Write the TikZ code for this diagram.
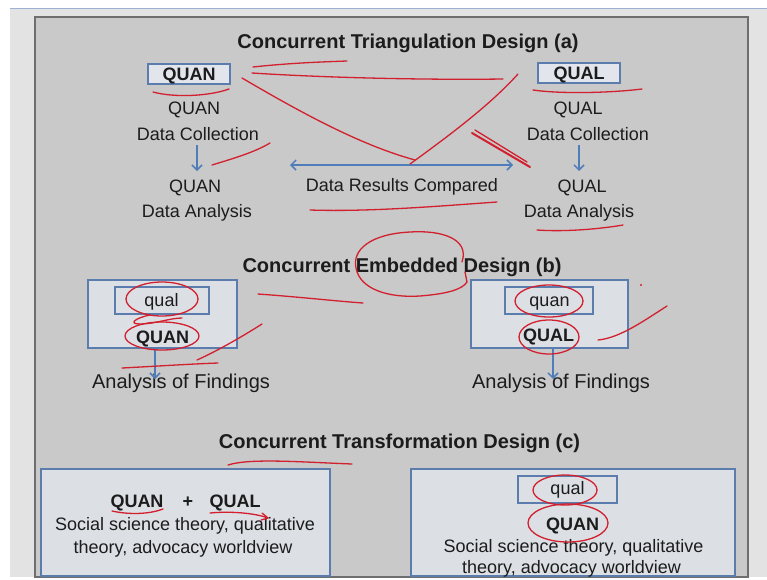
\documentclass[tikz,border=0pt]{standalone}
\usepackage{fontspec}
\setmainfont{Liberation Sans}
\usetikzlibrary{arrows.meta}
\definecolor{panel}{HTML}{C9C9C9}
\definecolor{outerbg}{HTML}{E3E3E3}
\definecolor{topline}{HTML}{9DB3D3}
\definecolor{frame}{HTML}{6E6E6E}
\definecolor{boxfill}{HTML}{DCDFE4}
\definecolor{boxlight}{HTML}{E2E6EC}
\definecolor{boxline}{HTML}{5A7DAE}
\definecolor{arrowblue}{HTML}{4F7DBA}
\definecolor{ink}{HTML}{D2202F}
\definecolor{textc}{HTML}{1C1C1C}
\begin{document}
\begin{tikzpicture}[x=1pt,y=-1pt,
  ttl/.style={font=\fontsize{20}{24}\selectfont\bfseries, text=textc, inner sep=0pt, text height=14.3pt, text depth=0pt},
  txt/.style={font=\fontsize{18}{21}\selectfont, text=textc, inner sep=0pt, text height=12.9pt, text depth=0pt},
  bigtxt/.style={font=\fontsize{20}{24}\selectfont, text=textc, inner sep=0pt, text height=14.3pt, text depth=0pt},
  btxt/.style={font=\fontsize{18}{21}\selectfont\bfseries, text=textc, inner sep=0pt, text height=12.9pt, text depth=0pt},
  box/.style={draw=boxline, fill=boxfill, line width=1.4pt, inner sep=0pt},
  arr/.style={draw=arrowblue, line width=1.5pt, -{Straight Barb[length=5pt,width=10pt]}},
  darr/.style={draw=arrowblue, line width=1.5pt, {Straight Barb[length=5pt,width=10pt]}-{Straight Barb[length=5pt,width=10pt]}},
  pen/.style={draw=ink, line width=1.3pt, line cap=round, line join=round}]
\useasboundingbox (0,0) rectangle (767,579);
% background
\fill[white] (0,0) rectangle (767,579);
\fill[outerbg] (10,9) rectangle (767,577);
\draw[topline, line width=1.5pt] (10,8.5) -- (767,8.5);
\draw[frame, fill=panel, line width=1.2pt] (35,17) rectangle (748,577);

% ---------- (a) ----------
\node[ttl] (t1) at (408,41) {Concurrent Triangulation Design (a)};
\node[box, fill=boxlight, minimum width=82pt, minimum height=20pt] (quanbox) at (189,74) {};
\node[btxt] (quanboxt) at (189,74) {QUAN};
\node[box, fill=boxlight, minimum width=82pt, minimum height=20pt] (qualbox) at (579,73) {};
\node[btxt] (qualboxt) at (579,73) {QUAL};
\node[txt] (quanL) at (194,108) {QUAN};
\node[txt] (dcL) at (198,134) {Data Collection};
\node[txt] (qanL) at (195,186) {QUAN};
\node[txt] (daL) at (197,211) {Data Analysis};
\node[txt] (qualR) at (578,108) {QUAL};
\node[txt] (dcR) at (588,134) {Data Collection};
\node[txt] (qalR) at (582,186) {QUAL};
\node[txt] (daR) at (579,211) {Data Analysis};
\node[txt] (drc) at (402,185) {Data Results Compared};
\coordinate (aL1) at (197,145);
\coordinate (aL2) at (197,171);
\coordinate (aR1) at (579,145);
\coordinate (aR2) at (579,171);
\coordinate (dl) at (290,165);
\coordinate (dr) at (513,165);
\draw[arr] (aL1) -- (aL2);
\draw[arr] (aR1) -- (aR2);
\draw[darr] (dl) -- (dr);

% ---------- (b) ----------
\node[ttl] (t2) at (402,265) {Concurrent Embedded Design (b)};
\node[box, minimum width=149pt, minimum height=68pt] (lob) at (162.5,314) {};
\node[box, minimum width=94pt, minimum height=27pt] (lib) at (162,300.5) {};
\node[txt] (qualb) at (161.5,300) {qual};
\node[btxt] (quanb) at (162.5,337) {QUAN};
\node[bigtxt] (anL) at (181,381.5) {Analysis of Findings};
\node[box, minimum width=157pt, minimum height=68pt] (rob) at (549.5,314) {};
\node[box, minimum width=88pt, minimum height=27pt] (rib) at (549,300.5) {};
\node[txt] (quanbR) at (549.5,300.5) {quan};
\node[btxt] (qualbR) at (548.5,335) {QUAL};
\node[bigtxt] (anR) at (561,381.5) {Analysis of Findings};
\coordinate (bL2) at (155,379);
\coordinate (bR2) at (553,379);
\draw[arr] (lob.south -| bL2) -- (bL2);
\draw[arr] (rob.south -| bR2) -- (bR2);

% ---------- (c) ----------
\node[ttl] (t3) at (399.5,441) {Concurrent Transformation Design (c)};
\node[box, minimum width=289pt, minimum height=107pt] (tl) at (185.5,522.5) {};
\node[box, minimum width=324pt, minimum height=107pt] (tr) at (573,522.5) {};
\node[box, minimum width=99pt, minimum height=27pt] (tri) at (567.5,489.5) {};
\node[btxt] (cquan) at (137,501.5) {QUAN};
\node[btxt] (cplus) at (188,501.5) {+};
\node[btxt] (cqual) at (235,501.5) {QUAL};
\node[txt] (cs1) at (185,524.5) {Social science theory, qualitative};
\node[txt] (cs2) at (183,547) {theory, advocacy worldview};
\node[txt] (cqualR) at (567.5,488.5) {qual};
\node[btxt] (cquanR) at (572.5,524) {QUAN};
\node[txt] (cs3) at (573.5,546) {Social science theory, qualitative};
\node[txt] (cs4) at (571.5,567) {theory, advocacy worldview};

% ---------- red annotations ----------
\draw[pen] (153,92) .. controls (175,98) and (210,96) .. (229,89);
\draw[pen] (253,67) .. controls (290,63) and (320,62) .. (347,61);
\draw[pen] (252,73) .. controls (330,78) and (430,80) .. (503,79);
\draw[pen] (242,78) .. controls (300,112) and (360,145) .. (415,160);
\draw[pen] (410,164) .. controls (450,135) and (490,105) .. (518,74);
\draw[pen, line width=2pt] (472,133) -- (530,167);
\draw[pen] (475,130) -- (527,162);
\draw[pen] (533,90) .. controls (560,94) and (610,93) .. (642,89);
\draw[pen] (212,165) .. controls (235,158) and (255,152) .. (270,143);
\draw[pen] (310,210) .. controls (370,212) and (440,206) .. (497,202);
\draw[pen] (537,230) .. controls (565,232) and (600,229) .. (623,225);
% embedded ellipse
\draw[pen] (462,262) .. controls (470,238) and (440,230) .. (410,232)
  .. controls (370,234) and (352,250) .. (356,268)
  .. controls (360,290) and (390,298) .. (420,296)
  .. controls (445,294) and (462,290) .. (467,282) -- (465,272);
\draw[pen] (258,294) .. controls (300,297) and (335,301) .. (363,303);
% (b) left ovals
\draw[pen] (162,299) ellipse [x radius=36, y radius=17];
\draw[pen] (150,315) .. controls (135,318) and (128,324) .. (140,324) .. controls (155,324) and (170,318) .. (182,318);
\draw[pen] (162,336) ellipse [x radius=37, y radius=14];
\draw[pen] (197,360) .. controls (215,352) and (240,338) .. (262,324);
\draw[pen] (122,368) .. controls (160,366) and (190,364) .. (218,363);
% (b) right ovals
\draw[pen] (549,301) ellipse [x radius=34, y radius=16];
\draw[pen] (549,337) ellipse [x radius=30, y radius=17];
\draw[pen] (598,340) .. controls (620,338) and (645,320) .. (667,306);
\fill[ink] (641,285) circle [radius=1.2];
% (c)
\draw[pen] (228,465) .. controls (250,458) and (300,462) .. (352,464);
\draw[pen] (112,511) .. controls (130,515) and (150,514) .. (163,509);
\draw[pen] (210,513) .. controls (230,511) and (255,513) .. (268,518);
\draw[pen] (262,513) -- (268,518) -- (261,520);
\draw[pen] (565,490) ellipse [x radius=32, y radius=15];
\draw[pen] (568,523) ellipse [x radius=40, y radius=19];
\end{tikzpicture}
\end{document}
